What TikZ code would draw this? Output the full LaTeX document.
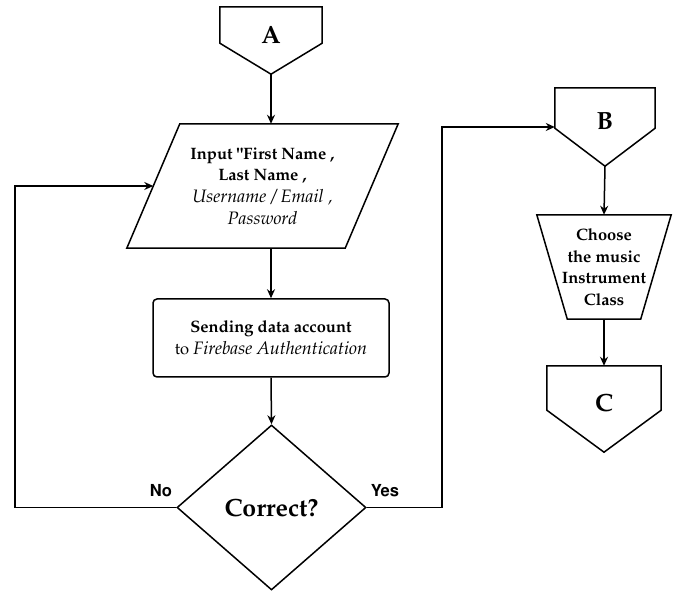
\documentclass[tikz,border=0pt]{standalone}
\usepackage[T1]{fontenc}
\usepackage{mathpazo}
\usepackage[scaled=0.92]{helvet}
\usetikzlibrary{arrows.meta,positioning,shapes.geometric,calc}
\newcommand{\softit}[1]{{\fontsize{18}{21.7}\selectfont\mdseries\itshape #1}}
\tikzset{
  offpage/.style={
    rectangle, inner sep=0pt, text depth=12pt,
    font=\Huge\bfseries
  },
  inputbox/.style={
    rectangle, inner sep=0pt,
    minimum width=218pt, minimum height=124pt,
    font=\fontsize{16.5}{21.7}\selectfont\bfseries, align=center
  },
  processbox/.style={
    rectangle, rounded corners=4pt, draw, line width=1.5pt,
    minimum width=236pt, minimum height=78pt,
    font=\fontsize{16.5}{21.7}\selectfont\bfseries, align=center
  },
  decisionbox/.style={
    diamond, draw, line width=1.5pt, inner sep=0pt,
    minimum width=189pt, minimum height=165pt,
    font=\Huge\bfseries
  },
  manualbox/.style={
    rectangle, inner sep=0pt,
    minimum width=134pt, minimum height=104pt,
    font=\fontsize{16.5}{21.7}\selectfont\bfseries, align=center
  },
  outline/.style={line width=1.5pt, line join=miter},
  flowarrow/.style={-{Stealth[length=9pt,width=8pt]}, line width=1.5pt},
  branchlabel/.style={font=\fontsize{18}{20}\selectfont\sffamily\bfseries},
}

\begin{document}
\begin{tikzpicture}[x=1pt, y=1pt]
  \useasboundingbox (0,0) rectangle (677,593);
  % left column
  \node[offpage, minimum width=102pt, minimum height=67pt] (A) at (271,552.5) {A};
  \draw[outline] (A.north west) -- (A.north east) -- ([yshift=31pt]A.south east)
    -- (A.south) -- ([yshift=31pt]A.south west) -- cycle;
  \node[inputbox] (input) at (262.5,407) {Input "First Name ,\\ Last Name ,\\
    \softit{Username / Email ,}\\ \softit{Password}};
  \draw[outline] ([xshift=26.5pt]input.north west) -- ([xshift=26.5pt]input.north east)
    -- ([xshift=-26.5pt]input.south east) -- ([xshift=-26.5pt]input.south west) -- cycle;
  \node[processbox] (send) at (271,255) {Sending data account\\
    {\mdseries to} \softit{Firebase Authentication}};
  \node[decisionbox] (check) at (271.5,85.5) {Correct?};
  % right column
  \node[offpage, minimum width=100pt, minimum height=78pt] (B) at (605,466) {B};
  \draw[outline] (B.north west) -- (B.north east) -- ([yshift=38pt]B.south east)
    -- (B.south) -- ([yshift=38pt]B.south west) -- cycle;
  \node[manualbox] (choose) at (604,326) {Choose\\ the music\\ Instrument\\ Class};
  \draw[outline] (choose.north west) -- (choose.north east)
    -- ([xshift=-30.5pt]choose.south east) -- ([xshift=30.5pt]choose.south west) -- cycle;
  \node[offpage, minimum width=114pt, minimum height=86pt] (C) at (604,184) {C};
  \draw[outline] (C.north west) -- (C.north east) -- ([yshift=42pt]C.south east)
    -- (C.south) -- ([yshift=42pt]C.south west) -- cycle;
  % connectors
  \coordinate (noturn) at (15,85.5);
  \coordinate (yesturn) at (442,85.5);
  \draw[flowarrow] (A.south) -- (A.south |- input.north);
  \draw[flowarrow] (input.south -| send.north) -- (send.north);
  \draw[flowarrow] (send.south) -- (check.north);
  \draw[flowarrow] (check.west) -- (noturn) |- (input.west);
  \draw[flowarrow] (check.east) -- (yesturn) |- (B.west);
  \draw[flowarrow] (B.south) -- (choose.north);
  \draw[flowarrow] (choose.south) -- (C.north);
  \node[branchlabel] (nolabel) at (161,102) {No};
  \node[branchlabel] (yeslabel) at (385,102) {Yes};
\end{tikzpicture}
\end{document}
